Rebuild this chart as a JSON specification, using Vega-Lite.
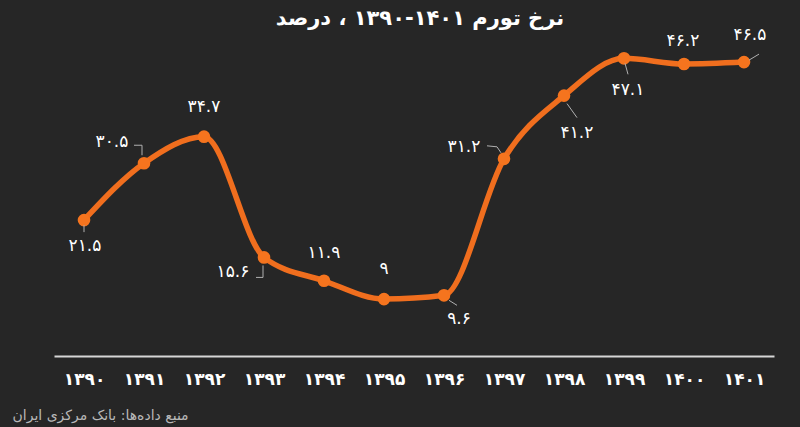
{
  "$schema": "https://vega.github.io/schema/vega-lite/v6.json",
  "width": 720,
  "height": 316,
  "autosize": {"type": "none"},
  "padding": {"left": 54, "top": 40, "right": 26, "bottom": 71},
  "background": "#262626",
  "config": {"view": {"stroke": null}, "font": "DejaVu Sans"},
  "title": {
    "text": "نرخ تورم ۱۴۰۱-۱۳۹۰ ، درصد",
    "font": "DejaVu Sans",
    "fontSize": 21,
    "fontWeight": "bold",
    "color": "#ffffff",
    "anchor": "middle",
    "baseline": "middle",
    "dx": 6,
    "dy": 14,
    "offset": 0
  },
  "data": {
    "values": [
      {"year": "۱۳۹۰", "v": 21.5, "label": "۲۱.۵"},
      {"year": "۱۳۹۱", "v": 30.5, "label": "۳۰.۵"},
      {"year": "۱۳۹۲", "v": 34.7, "label": "۳۴.۷"},
      {"year": "۱۳۹۳", "v": 15.6, "label": "۱۵.۶"},
      {"year": "۱۳۹۴", "v": 11.9, "label": "۱۱.۹"},
      {"year": "۱۳۹۵", "v": 9, "label": "۹"},
      {"year": "۱۳۹۶", "v": 9.6, "label": "۹.۶"},
      {"year": "۱۳۹۷", "v": 31.2, "label": "۳۱.۲"},
      {"year": "۱۳۹۸", "v": 41.2, "label": "۴۱.۲"},
      {"year": "۱۳۹۹", "v": 47.1, "label": "۴۷.۱"},
      {"year": "۱۴۰۰", "v": 46.2, "label": "۴۶.۲"},
      {"year": "۱۴۰۱", "v": 46.5, "label": "۴۶.۵"}
    ]
  },
  "encoding": {
    "x": {
      "field": "year",
      "type": "ordinal",
      "sort": null,
      "scale": {"type": "point", "padding": 0.5},
      "axis": {
        "title": "منبع داده‌ها: بانک مرکزی ایران",
        "titleAnchor": "start",
        "titleAlign": "left",
        "titleX": -42,
        "titleY": 59,
        "titleBaseline": "middle",
        "titleColor": "#b8b8b8",
        "titleFontSize": 14,
        "titleFontWeight": "normal",
        "titleFont": "DejaVu Sans",
        "domain": true,
        "domainColor": "#d6d6d6",
        "domainWidth": 2,
        "ticks": false,
        "tickSize": 0,
        "grid": false,
        "labelAngle": 0,
        "labelColor": "#ffffff",
        "labelFont": "DejaVu Sans",
        "labelFontSize": 17,
        "labelFontWeight": "bold",
        "labelPadding": 15
      }
    },
    "y": {
      "field": "v",
      "type": "quantitative",
      "scale": {"domain": [0, 50], "nice": false, "zero": true},
      "axis": null
    }
  },
  "layer": [
    {"mark": {"type": "line", "interpolate": "monotone", "color": "#F06E1E", "strokeWidth": 5.5}},
    {"mark": {"type": "circle", "size": 160, "color": "#F5741E", "opacity": 1}},
    {
      "transform": [{"filter": {"field": "year", "oneOf": ["۱۳۹۰"]}}],
      "layer": [
        {"mark": {"type": "rule", "color": "#b0b0b0", "strokeWidth": 1, "yOffset": 5, "y2Offset": 12}, "encoding": {"x2": {"field": "year"}, "y2": {"field": "v"}}},
        {"mark": {"type": "text", "color": "#ffffff", "fontSize": 17, "font": "DejaVu Sans", "baseline": "middle", "dx": 1, "dy": 26}, "encoding": {"text": {"field": "label"}}}
      ]
    },
    {
      "transform": [{"filter": {"field": "year", "oneOf": ["۱۳۹۱"]}}],
      "layer": [
        {"mark": {"type": "rule", "color": "#b0b0b0", "strokeWidth": 1, "xOffset": -10, "yOffset": -18, "x2Offset": -2, "y2Offset": -18}, "encoding": {"x2": {"field": "year"}, "y2": {"field": "v"}}},
        {"mark": {"type": "rule", "color": "#b0b0b0", "strokeWidth": 1, "xOffset": -2, "yOffset": -18, "x2Offset": -2, "y2Offset": -8}, "encoding": {"x2": {"field": "year"}, "y2": {"field": "v"}}},
        {"mark": {"type": "text", "color": "#ffffff", "fontSize": 17, "font": "DejaVu Sans", "baseline": "middle", "dx": -32, "dy": -21}, "encoding": {"text": {"field": "label"}}}
      ]
    },
    {
      "transform": [{"filter": {"field": "year", "oneOf": ["۱۳۹۲"]}}],
      "mark": {"type": "text", "color": "#ffffff", "fontSize": 17, "font": "DejaVu Sans", "baseline": "middle", "dx": 0, "dy": -30},
      "encoding": {"text": {"field": "label"}}
    },
    {
      "transform": [{"filter": {"field": "year", "oneOf": ["۱۳۹۳"]}}],
      "layer": [
        {"mark": {"type": "rule", "color": "#b0b0b0", "strokeWidth": 1, "xOffset": -8, "yOffset": 20, "x2Offset": -1, "y2Offset": 20}, "encoding": {"x2": {"field": "year"}, "y2": {"field": "v"}}},
        {"mark": {"type": "rule", "color": "#b0b0b0", "strokeWidth": 1, "xOffset": -1, "yOffset": 20, "x2Offset": -1, "y2Offset": 8}, "encoding": {"x2": {"field": "year"}, "y2": {"field": "v"}}},
        {"mark": {"type": "text", "color": "#ffffff", "fontSize": 17, "font": "DejaVu Sans", "baseline": "middle", "dx": -31, "dy": 15}, "encoding": {"text": {"field": "label"}}}
      ]
    },
    {
      "transform": [{"filter": {"field": "year", "oneOf": ["۱۳۹۴"]}}],
      "mark": {"type": "text", "color": "#ffffff", "fontSize": 17, "font": "DejaVu Sans", "baseline": "middle", "dx": 0, "dy": -28},
      "encoding": {"text": {"field": "label"}}
    },
    {
      "transform": [{"filter": {"field": "year", "oneOf": ["۱۳۹۵"]}}],
      "mark": {"type": "text", "color": "#ffffff", "fontSize": 17, "font": "DejaVu Sans", "baseline": "middle", "dx": 0, "dy": -30},
      "encoding": {"text": {"field": "label"}}
    },
    {
      "transform": [{"filter": {"field": "year", "oneOf": ["۱۳۹۶"]}}],
      "layer": [
        {"mark": {"type": "rule", "color": "#b0b0b0", "strokeWidth": 1, "xOffset": 5, "yOffset": 5, "x2Offset": 13, "y2Offset": 10}, "encoding": {"x2": {"field": "year"}, "y2": {"field": "v"}}},
        {"mark": {"type": "text", "color": "#ffffff", "fontSize": 17, "font": "DejaVu Sans", "baseline": "middle", "dx": 15, "dy": 24}, "encoding": {"text": {"field": "label"}}}
      ]
    },
    {
      "transform": [{"filter": {"field": "year", "oneOf": ["۱۳۹۷"]}}],
      "layer": [
        {"mark": {"type": "rule", "color": "#b0b0b0", "strokeWidth": 1, "xOffset": -17, "yOffset": -13, "x2Offset": -7, "y2Offset": -12}, "encoding": {"x2": {"field": "year"}, "y2": {"field": "v"}}},
        {"mark": {"type": "rule", "color": "#b0b0b0", "strokeWidth": 1, "xOffset": -7, "yOffset": -12, "x2Offset": -3, "y2Offset": -6}, "encoding": {"x2": {"field": "year"}, "y2": {"field": "v"}}},
        {"mark": {"type": "text", "color": "#ffffff", "fontSize": 17, "font": "DejaVu Sans", "baseline": "middle", "dx": -40, "dy": -12}, "encoding": {"text": {"field": "label"}}}
      ]
    },
    {
      "transform": [{"filter": {"field": "year", "oneOf": ["۱۳۹۸"]}}],
      "layer": [
        {"mark": {"type": "rule", "color": "#b0b0b0", "strokeWidth": 1, "xOffset": 3, "yOffset": 8, "x2Offset": 13, "y2Offset": 22}, "encoding": {"x2": {"field": "year"}, "y2": {"field": "v"}}},
        {"mark": {"type": "text", "color": "#ffffff", "fontSize": 17, "font": "DejaVu Sans", "baseline": "middle", "dx": 13, "dy": 37}, "encoding": {"text": {"field": "label"}}}
      ]
    },
    {
      "transform": [{"filter": {"field": "year", "oneOf": ["۱۳۹۹"]}}],
      "layer": [
        {"mark": {"type": "rule", "color": "#b0b0b0", "strokeWidth": 1, "xOffset": 1, "yOffset": 5, "x2Offset": 4, "y2Offset": 16}, "encoding": {"x2": {"field": "year"}, "y2": {"field": "v"}}},
        {"mark": {"type": "text", "color": "#ffffff", "fontSize": 17, "font": "DejaVu Sans", "baseline": "middle", "dx": 4, "dy": 32}, "encoding": {"text": {"field": "label"}}}
      ]
    },
    {
      "transform": [{"filter": {"field": "year", "oneOf": ["۱۴۰۰"]}}],
      "mark": {"type": "text", "color": "#ffffff", "fontSize": 17, "font": "DejaVu Sans", "baseline": "middle", "dx": -1, "dy": -23},
      "encoding": {"text": {"field": "label"}}
    },
    {
      "transform": [{"filter": {"field": "year", "oneOf": ["۱۴۰۱"]}}],
      "layer": [
        {"mark": {"type": "rule", "color": "#b0b0b0", "strokeWidth": 1, "xOffset": 5, "yOffset": -2, "x2Offset": 15, "y2Offset": -8}, "encoding": {"x2": {"field": "year"}, "y2": {"field": "v"}}},
        {"mark": {"type": "text", "color": "#ffffff", "fontSize": 17, "font": "DejaVu Sans", "baseline": "middle", "dx": 6, "dy": -27}, "encoding": {"text": {"field": "label"}}}
      ]
    }
  ]
}
